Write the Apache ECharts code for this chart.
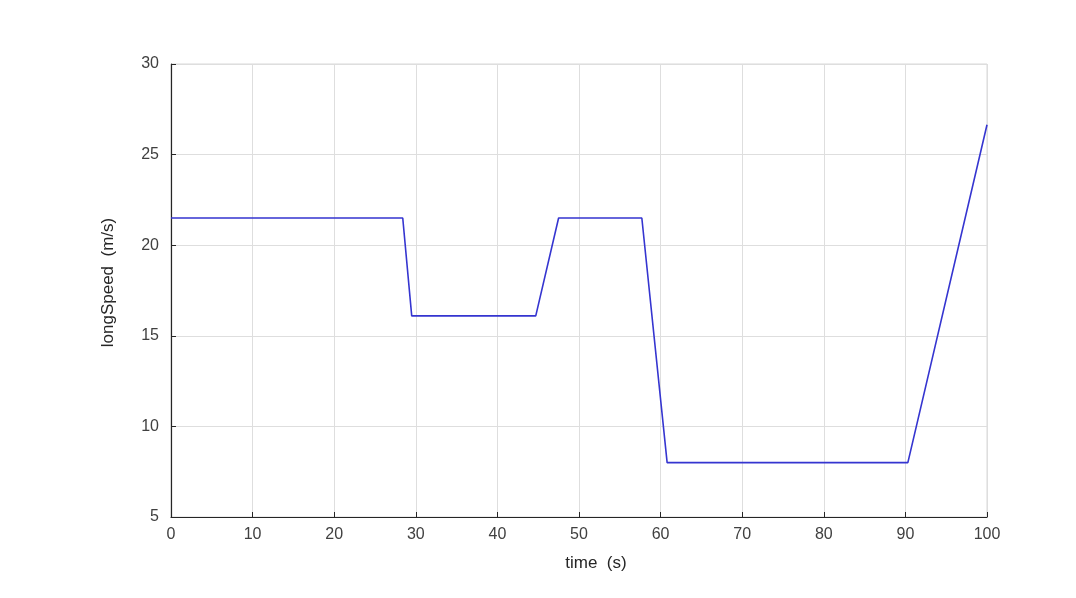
<!DOCTYPE html>
<html>
<head>
<meta charset="utf-8">
<script src="https://cdn.jsdelivr.net/npm/echarts@6/dist/echarts.min.js"></script>
<style>html,body{margin:0;padding:0;background:#fff;}#c{width:1076px;height:598px;}</style>
</head>
<body>
<div id="c"></div>
<script>
const timeS = [0, 28.4, 29.5, 44.7, 47.5, 57.7, 60.8, 90.3, 100];
const longSpeed = [21.5, 21.5, 16.1, 16.1, 21.5, 21.5, 8.0, 8.0, 26.65];
const xTicks = [0, 10, 20, 30, 40, 50, 60, 70, 80, 90, 100];
const yTicks = [5, 10, 15, 20, 25, 30];
const xName = 'time  (s)';
const yName = 'longSpeed  (m/s)';

const chart = echarts.init(document.getElementById('c'));
const font = 'Liberation Sans';
chart.setOption({
  backgroundColor: '#fff',
  animation: false,
  grid: {left: 171, right: 89, top: 64, bottom: 81, show: true, borderColor: '#d9d9d9', borderWidth: 1},
  xAxis: {
    type: 'value', min: xTicks[0], max: xTicks[xTicks.length-1], interval: 10,
    name: xName, nameLocation: 'middle', nameGap: 38,
    nameTextStyle: {fontFamily: font, fontSize: 17, color: '#262626', padding: [0, 0, 0, 34]},
    axisLine: {show: true, onZero: false, lineStyle: {color: '#262626', width: 1.2}},
    axisTick: {show: true, inside: true, length: 5, lineStyle: {color: '#262626'}},
    axisLabel: {fontFamily: font, fontSize: 16, color: '#404040', margin: 10},
    splitLine: {show: true, lineStyle: {color: '#dedede', width: 1}}
  },
  yAxis: {
    type: 'value', min: yTicks[0], max: yTicks[yTicks.length-1], interval: 5,
    name: yName, nameLocation: 'middle', nameGap: 54,
    nameTextStyle: {fontFamily: font, fontSize: 17, color: '#262626', padding: [0, 0, 0, 16]},
    axisLine: {show: true, onZero: false, lineStyle: {color: '#262626', width: 1.2}},
    axisTick: {show: true, inside: true, length: 5, lineStyle: {color: '#262626'}},
    axisLabel: {fontFamily: font, fontSize: 16, color: '#404040', margin: 12},
    splitLine: {show: true, lineStyle: {color: '#dedede', width: 1}}
  },
  series: [{
    type: 'line',
    data: timeS.map((t, i) => [t, longSpeed[i]]),
    showSymbol: false,
    lineStyle: {color: '#3535d0', width: 1.6},
    itemStyle: {color: '#3535d0'}
  }]
});
</script>
</body>
</html>
